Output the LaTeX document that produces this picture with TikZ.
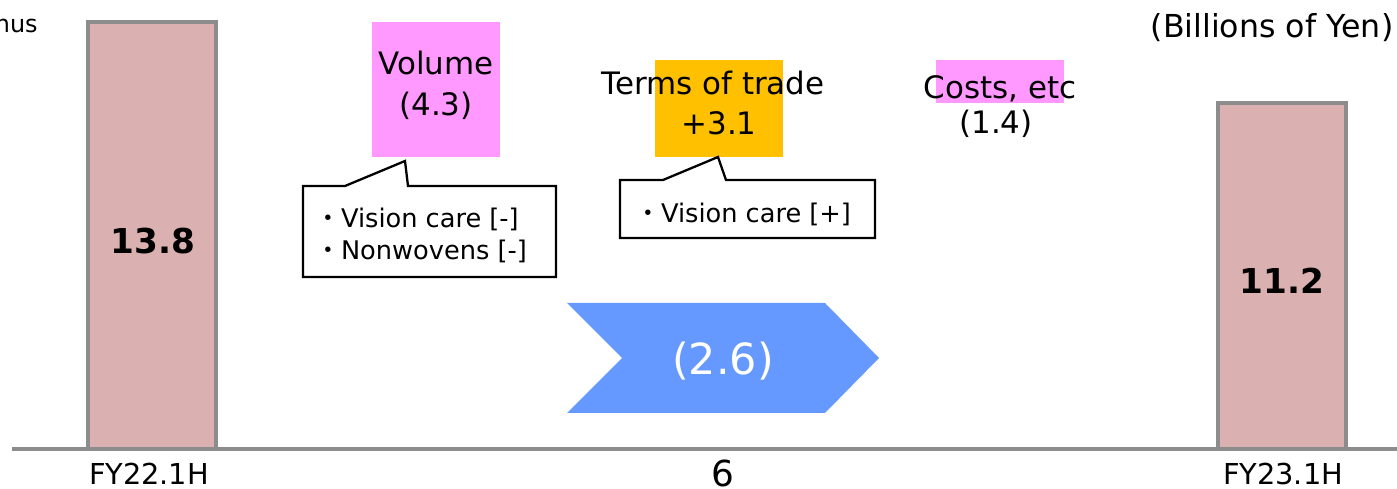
\documentclass[tikz,border=0pt]{standalone}
\usepackage{fontspec}
\setmainfont{DejaVu Sans}
\newfontfamily\cjk{Noto Sans CJK JP}
\definecolor{barpink}{HTML}{DBB0B0}
\definecolor{linegray}{HTML}{8C8C8C}
\definecolor{volpink}{HTML}{FF99FF}
\definecolor{tradegold}{HTML}{FFC000}
\definecolor{netblue}{HTML}{6699FF}
\newcommand{\dotmark}{{\cjk ・}}

\begin{document}
\begin{tikzpicture}[x=0.02cm, y=-0.02cm,
    bar/.style={fill=barpink, draw=linegray, line width=2.2pt},
    callout/.style={draw=black, fill=white, line width=1.3pt, line join=miter},
    lbl/.style={inner sep=0, anchor=base, font=\fontsize{17.6}{24}\selectfont},
    note/.style={inner sep=0, anchor=base west, font=\fontsize{14.6}{18}\selectfont},
    tick/.style={inner sep=0, anchor=base, font=\fontsize{16.4}{20}\selectfont}]

    \useasboundingbox (0,0) rectangle (1397,489);

    % bars
    \draw[bar] (88,22) rectangle (216,449);
    \draw[bar] (1218,103) rectangle (1346,449);
    \draw[linegray, line width=2.2pt] (12,449) -- (1397,449);

    \node[inner sep=0, anchor=base, font=\bfseries\fontsize{19.5}{22}\selectfont] (V22) at (153,254) {13.8};
    \node[inner sep=0, anchor=base, font=\bfseries\fontsize{19.5}{22}\selectfont] (V23) at (1282,294) {11.2};

    % highlights
    \fill[volpink] (372,22) rectangle (500,157);
    \fill[tradegold] (655,60) rectangle (783,157);
    \fill[volpink] (936,60) rectangle (1064,103);

    \node[lbl] (VOL) at (436,75) {Volume};
    \node[lbl] (VOLN) at (436,116) {(4.3)};
    \node[lbl] (TOT) at (713,95) {Terms of trade};
    \node[lbl] (TOTN) at (719,135) {+3.1};
    \node[lbl] (CST) at (1000,99) {Costs, etc};
    \node[lbl] (CSTN) at (996,134) {(1.4)};

    % callouts
    \draw[callout] (303,186) -- (345,186) -- (405,161) -- (408,186) -- (556,186)
        -- (556,277) -- (303,277) -- cycle;
    \node[note] (N1) at (315,228) {\dotmark Vision care [-]};
    \node[note] (N2) at (315,260) {\dotmark Nonwovens [-]};

    \draw[callout] (620,180) -- (663,180) -- (718,157) -- (726,180) -- (875,180)
        -- (875,238) -- (620,238) -- cycle;
    \node[note] (N3) at (635,223) {\dotmark Vision care [+]};

    % net change
    \fill[netblue] (567,303) -- (825,303) -- (879,358) -- (825,413) -- (567,413) -- (622,358) -- cycle;
    \node[inner sep=0, anchor=base, text=white, font=\fontsize{24.4}{28}\selectfont] (NET) at (723,375) {(2.6)};

    % captions
    \node[inner sep=0, anchor=base east, font=\fontsize{13.6}{16}\selectfont] (CUT) at (38,33) {nus};
    \node[inner sep=0, anchor=base, font=\fontsize{18}{22}\selectfont] (UNIT) at (1272,38) {(Billions of Yen)};
    \node[tick] (T22) at (149,485) {FY22.1H};
    \node[tick] (T23) at (1283,485) {FY23.1H};
    \node[inner sep=0, anchor=base, font=\fontsize{20.4}{24}\selectfont] (PG) at (723,487) {6};

\end{tikzpicture}
\end{document}
